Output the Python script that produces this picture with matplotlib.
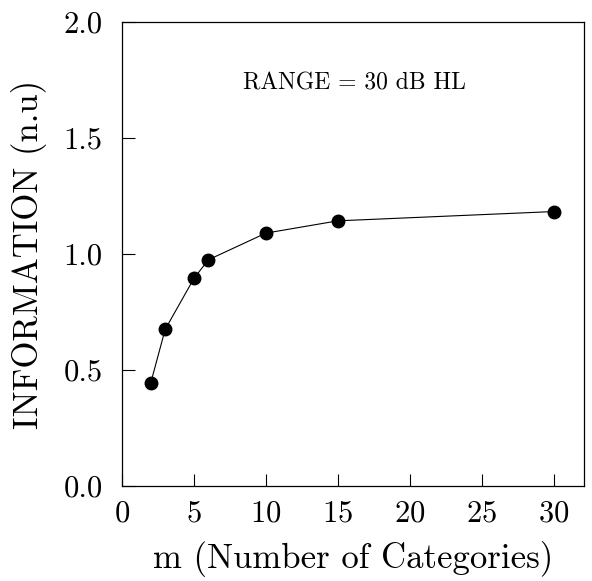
import matplotlib
matplotlib.use("Agg")
import matplotlib.pyplot as plt

# data
m_categories = [2, 3, 5, 6, 10, 15, 30]
information = [0.445, 0.675, 0.895, 0.975, 1.09, 1.143, 1.183]

plt.rcParams['font.family'] = ['cmr10', 'DejaVu Serif']
plt.rcParams['axes.formatter.use_mathtext'] = True
plt.rcParams['mathtext.fontset'] = 'cm'

fig = plt.figure(figsize=(5.92, 5.81), dpi=100)
ax = fig.add_axes([122 / 592, 1 - 486 / 581, 462 / 592, 464 / 581])

ax.plot(m_categories, information, color='black', linewidth=0.8,
        marker='o', markersize=9, markerfacecolor='black')

ax.set_xlim(0, 32.1)
ax.set_ylim(0, 2.0)
ax.set_xticks([0, 5, 10, 15, 20, 25, 30])
ax.set_yticks([0.0, 0.5, 1.0, 1.5, 2.0])
ax.set_yticklabels(['0.0', '0.5', '1.0', '1.5', '2.0'])
ax.tick_params(direction='in', length=9, width=0.8, labelsize=22)
ax.tick_params(axis='y', pad=14)
ax.tick_params(axis='x', pad=10)
for s in ax.spines.values():
    s.set_linewidth(0.9)

ax.set_xlabel('m (Number of Categories)', fontsize=25, labelpad=10)
ax.set_ylabel('INFORMATION (n.u)', fontsize=25, labelpad=12)

ax.text(0.504, 0.868, 'RANGE = 30 dB HL', transform=ax.transAxes,
        ha='center', va='center', fontsize=17)

fig.savefig('out.png', dpi=100)
